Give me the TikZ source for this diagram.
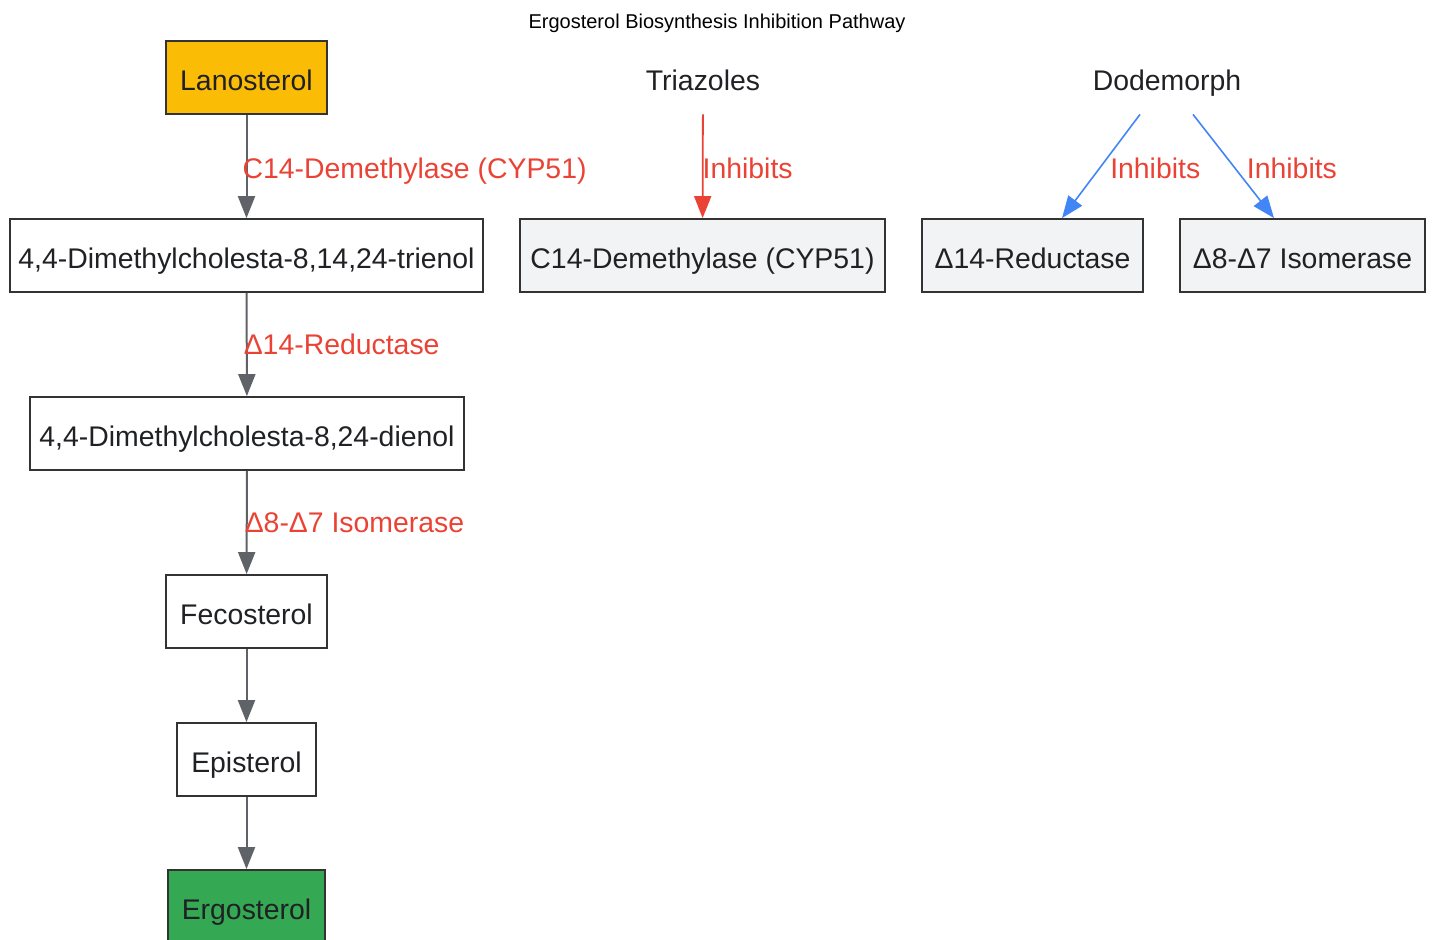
\documentclass[tikz,border=0pt]{standalone}
\usepackage{fontspec}
\setmainfont{Liberation Sans}
\usetikzlibrary{arrows.meta}
\definecolor{txt}{HTML}{202124}
\definecolor{bord}{HTML}{333333}
\definecolor{lanof}{HTML}{FBBC05}
\definecolor{ergof}{HTML}{34A853}
\definecolor{enzf}{HTML}{F1F3F4}
\definecolor{edgegray}{HTML}{5F6368}
\definecolor{inhred}{HTML}{EA4335}
\definecolor{inhblue}{HTML}{4285F4}
\tikzset{
  every node/.style={font=\fontsize{14.2}{17}\selectfont, text=txt},
  stepbox/.style={draw=bord, line width=0.9pt, fill=white, minimum height=36.5pt, inner sep=0pt, align=center, text height=14pt, text depth=1.5pt},
  enzbox/.style={stepbox, fill=enzf},
  plain/.style={minimum height=36.5pt, inner sep=0pt, text height=14pt, text depth=1.5pt},
  flow/.style={draw=edgegray, line width=1pt, -{Triangle[length=11pt,width=8.5pt]}},
  inhr/.style={draw=inhred, line width=0.9pt, -{Triangle[length=11pt,width=8.5pt]}},
  inhb/.style={draw=inhblue, line width=0.8pt, -{Triangle[length=11pt,width=8.5pt]}},
  elabel/.style={text=inhred, anchor=west, inner sep=0pt, text height=10.2pt, text depth=0pt},
}
\begin{document}
\begin{tikzpicture}[x=0.5pt,y=-0.5pt]
\useasboundingbox (0,0) rectangle (1433,939);
\node[font=\fontsize{10}{12}\selectfont, text=black] (title) at (717,23) {Ergosterol Biosynthesis Inhibition Pathway};

\node[stepbox, fill=lanof, minimum width=80.5pt] (lan) at (246.5,77.5) {Lanosterol};
\node[stepbox, minimum width=236.5pt] (tri) at (246.5,255.5) {4,4-Dimethylcholesta-8,14,24-trienol};
\node[stepbox, minimum width=217pt] (die) at (247,433.5) {4,4-Dimethylcholesta-8,24-dienol};
\node[stepbox, minimum width=80.5pt] (fec) at (246.5,611.5) {Fecosterol};
\node[stepbox, minimum width=69.5pt] (epi) at (246.5,759.5) {Episterol};
\node[stepbox, fill=ergof, minimum width=78.5pt] (erg) at (246.5,906.5) {Ergosterol};

\node[plain] (triaz) at (703,77.5) {Triazoles};
\node[plain] (dod) at (1167,77.5) {Dodemorph};
\node[enzbox, minimum width=182.5pt] (cyp) at (702.5,255.5) {C14-Demethylase (CYP51)};
\node[enzbox, minimum width=110.5pt] (red) at (1032.5,255.5) {Δ14-Reductase};
\node[enzbox, minimum width=122.5pt] (iso) at (1302.5,255.5) {Δ8-Δ7 Isomerase};

\draw[flow] (lan) -- node[elabel, pos=0.52, xshift=-2.5pt] {C14-Demethylase (CYP51)} (tri);
\draw[flow] (tri) -- node[elabel, pos=0.5, xshift=-2pt] {Δ14-Reductase} (die);
\draw[flow] (die) -- node[elabel, pos=0.5, xshift=-1.5pt] {Δ8-Δ7 Isomerase} (fec);
\draw[flow] (fec) -- (epi);
\draw[flow] (epi) -- (erg);

\draw[inhr] (triaz) -- node[elabel, pos=0.52, xshift=-0.5pt] {Inhibits} (cyp);
\draw[inhb] ([xshift=-13.5pt]dod.south) -- node[elabel, pos=0.52, xshift=5pt] {Inhibits} ([xshift=14.75pt]red.north);
\draw[inhb] ([xshift=13pt]dod.south) -- node[elabel, pos=0.52, xshift=5.5pt] {Inhibits} ([xshift=-14.25pt]iso.north);
\end{tikzpicture}
\end{document}
